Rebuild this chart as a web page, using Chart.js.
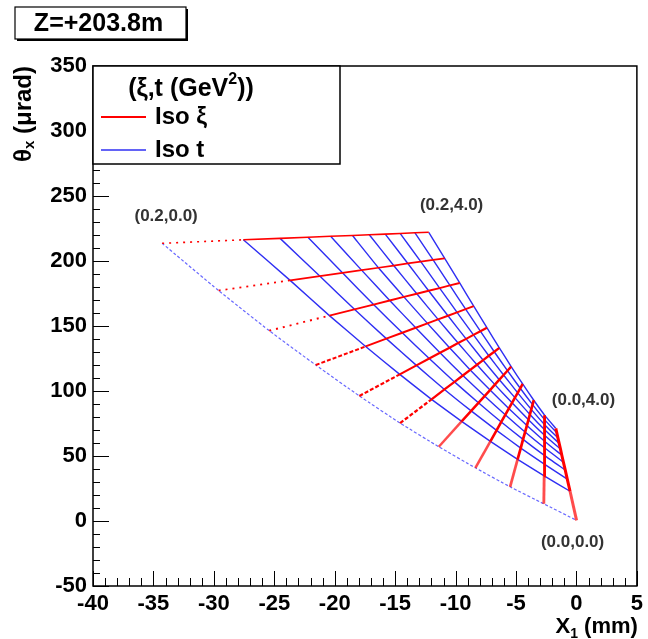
<!DOCTYPE html>
<html>
<head>
<meta charset="utf-8">
<script src="https://cdn.jsdelivr.net/npm/chart.js@4.4.0/dist/chart.umd.min.js"></script>
<style>
  html, body { margin: 0; padding: 0; background: #fff; }
</style>
</head>
<body>
<canvas id="chart" width="648" height="639"></canvas>
<script>
// iso lines of the (xi, t) grid at Z = +203.8 m
const xiValues = [0.20, 0.18, 0.16, 0.14, 0.12, 0.10, 0.08, 0.06, 0.04, 0.02, 0.00];
const tValues  = [0.0, 0.4, 0.8, 1.2, 1.6, 2.0, 2.4, 2.8, 3.2, 3.6, 4.0];

// X1 (mm): one row per xi, one column per t
const gridX = [
  [-34.28, -27.56, -24.52, -22.22, -20.34, -18.53, -17.14, -15.82, -14.59, -13.36, -12.22],
  [-29.61, -23.69, -21.24, -19.36, -17.78, -16.38, -15.12, -13.95, -12.88, -11.86, -10.90],
  [-25.42, -20.44, -18.37, -16.79, -15.45, -14.28, -13.21, -12.23, -11.32, -10.47,  -9.66],
  [-21.57, -17.44, -15.73, -14.41, -13.30, -12.33, -11.45, -10.63,  -9.88,  -9.17,  -8.50],
  [-17.96, -14.62, -13.24, -12.18, -11.29, -10.50,  -9.79,  -9.13,  -8.52,  -7.95,  -7.41],
  [-14.59, -11.99, -10.92, -10.09,  -9.40,  -8.79,  -8.23,  -7.72,  -7.25,  -6.80,  -6.38],
  [-11.39,  -9.50,  -8.71,  -8.11,  -7.60,  -7.15,  -6.75,  -6.38,  -6.03,  -5.71,  -5.40],
  [ -8.36,  -7.12,  -6.61,  -6.22,  -5.89,  -5.60,  -5.33,  -5.09,  -4.86,  -4.65,  -4.45],
  [ -5.49,  -4.87,  -4.61,  -4.42,  -4.25,  -4.10,  -3.97,  -3.85,  -3.74,  -3.63,  -3.53],
  [ -2.70,  -2.67,  -2.66,  -2.66,  -2.65,  -2.64,  -2.64,  -2.63,  -2.63,  -2.62,  -2.62],
  [  0.01,  -0.53,  -0.76,  -0.93,  -1.08,  -1.21,  -1.32,  -1.43,  -1.53,  -1.62,  -1.71]
];

// theta_x (urad): same layout
const gridY = [
  [213.6, 216.3, 217.4, 218.3, 219.0, 219.6, 220.2, 220.7, 221.2, 221.7, 222.1],
  [177.3, 185.1, 188.4, 190.9, 193.0, 194.8, 196.5, 198.1, 199.5, 200.8, 202.1],
  [146.4, 158.0, 162.8, 166.5, 169.6, 172.4, 174.8, 177.1, 179.2, 181.2, 183.1],
  [120.0, 134.3, 140.3, 144.8, 148.7, 152.0, 155.1, 157.9, 160.5, 163.0, 165.3],
  [ 96.2, 112.8, 119.7, 125.0, 129.4, 133.3, 136.9, 140.1, 143.2, 146.0, 148.7],
  [ 75.3,  93.6, 101.2, 107.0, 111.9, 116.2, 120.2, 123.7, 127.1, 130.2, 133.2],
  [ 57.1,  76.6,  84.7,  90.9,  96.1, 100.7, 104.9, 108.7, 112.3, 115.6, 118.8],
  [ 40.9,  61.3,  69.7,  76.2,  81.7,  86.5,  90.9,  94.9,  98.6, 102.1, 105.4],
  [ 26.3,  47.4,  56.1,  62.8,  68.4,  73.4,  77.9,  82.0,  85.9,  89.5,  92.9],
  [ 13.2,  34.7,  43.7,  50.5,  56.3,  61.4,  66.0,  70.2,  74.1,  77.8,  81.3],
  [  0.5,  22.9,  32.2,  39.3,  45.3,  50.6,  55.3,  59.7,  63.8,  67.7,  71.3]
];

const xTicks = { min: -40, max: 5, step: 5, minor: 1 };
const yTicks = { min: -50, max: 350, step: 50, minor: 10 };

// corner annotations, anchored in data units
const cornerText = ['(0.2,0.0)', '(0.2,4.0)', '(0.0,4.0)', '(0.0,0.0)'];
const cornerAtX  = [-33.95, -10.33, 0.58, -0.32];
const cornerAtY  = [234.4, 242.8, 92.8, -16.4];

const FONT = '"Liberation Sans", Arial, Helvetica, sans-serif';
const RED = '#ff0000';
const BLUE = 'rgba(0,0,240,0.82)';

// first segment (t from 0 to 0.4) has few points: dotted on the long lines, faded on the short ones
function firstDash(i) {
  if (i <= 2) return [2, 5];
  if (i <= 5) return [4, 2];
  return undefined;
}

const isoXi = xiValues.map((xi, i) => ({
  label: 'Iso \u03be',
  data: tValues.map((t, j) => ({ x: gridX[i][j], y: gridY[i][j] })),
  showLine: true,
  borderColor: RED,
  borderWidth: 1.6 + 0.14 * i,
  pointRadius: 0,
  tension: 0,
  order: 0,
  segment: {
    borderDash: c => c.p0DataIndex === 0 ? firstDash(i) : undefined,
    borderColor: c => c.p0DataIndex === 0 && i > 5 ? 'rgba(255,0,0,0.7)' : undefined
  }
}));

const isoT = tValues.map((t, j) => ({
  label: 'Iso t',
  data: xiValues.map((xi, i) => ({ x: gridX[i][j], y: gridY[i][j] })),
  showLine: true,
  borderColor: j === 0 ? 'rgba(40,40,255,0.7)' : BLUE,
  borderWidth: j === 0 ? 1.2 : 1.4,
  borderDash: j === 0 ? [3, 2] : [],
  pointRadius: 0,
  tension: 0.15,
  order: 1
}));

// draws text runs with sub/superscripts, returns total width
function richText(ctx, parts, x, y, align) {
  let w = 0;
  parts.forEach(p => { ctx.font = p.font; w += ctx.measureText(p.text).width; });
  let cx = align === 'right' ? x - w : align === 'center' ? x - w / 2 : x;
  ctx.textAlign = 'left';
  parts.forEach(p => {
    ctx.font = p.font;
    ctx.fillText(p.text, cx, y + (p.dy || 0));
    cx += ctx.measureText(p.text).width;
  });
  return w;
}

const rootStyle = {
  id: 'rootStyle',
  beforeDraw(chart) {
    const ctx = chart.ctx;
    ctx.save();
    ctx.fillStyle = '#fff';
    ctx.fillRect(0, 0, chart.width, chart.height);
    ctx.restore();
  },
  afterDraw(chart) {
    const ctx = chart.ctx;
    const a = chart.chartArea;
    const xs = chart.scales.x, ys = chart.scales.y;
    ctx.save();

    // inward ticks on bottom and left axes
    ctx.strokeStyle = '#000';
    ctx.lineWidth = 1;
    ctx.beginPath();
    for (let v = xTicks.min; v <= xTicks.max; v += xTicks.minor) {
      const px = Math.round(xs.getPixelForValue(v)) + 0.5;
      const len = v % xTicks.step === 0 ? 15 : 8;
      ctx.moveTo(px, a.bottom);
      ctx.lineTo(px, a.bottom - len);
    }
    for (let v = yTicks.min; v <= yTicks.max; v += yTicks.minor) {
      const py = Math.round(ys.getPixelForValue(v)) + 0.5;
      const len = v % yTicks.step === 0 ? 16 : 7;
      ctx.moveTo(a.left, py);
      ctx.lineTo(a.left + len, py);
    }
    ctx.stroke();

    // frame
    ctx.lineWidth = 1.5;
    ctx.strokeRect(a.left, a.top, a.right - a.left, a.bottom - a.top);

    // corner labels
    ctx.fillStyle = '#333';
    ctx.font = 'bold 17px ' + FONT;
    ctx.textAlign = 'center';
    ctx.textBaseline = 'middle';
    cornerText.forEach((txt, k) => {
      ctx.fillText(txt, xs.getPixelForValue(cornerAtX[k]), ys.getPixelForValue(cornerAtY[k]));
    });

    // legend box
    const lx = a.left, ly = a.top, lw = 247, lh = 98;
    ctx.fillStyle = '#fff';
    ctx.fillRect(lx, ly, lw, lh);
    ctx.strokeStyle = '#000';
    ctx.lineWidth = 1.5;
    ctx.strokeRect(lx, ly, lw, lh);
    ctx.fillStyle = '#000';
    ctx.textBaseline = 'middle';
    const big = 'bold 25px ' + FONT, small = 'bold 16px ' + FONT;
    richText(ctx, [
      { text: '(\u03be,t (GeV', font: big },
      { text: '2', font: small, dy: -9 },
      { text: '))', font: big }
    ], lx + 98, ly + 23, 'center');
    const entries = [
      { ds: chart.data.datasets[0], y: ly + 51, width: 2 },
      { ds: chart.data.datasets[xiValues.length + 1], y: ly + 84, width: 1.5 }
    ];
    entries.forEach(e => {
      ctx.strokeStyle = e.ds.borderColor;
      ctx.lineWidth = e.width;
      ctx.beginPath();
      ctx.moveTo(lx + 8, e.y);
      ctx.lineTo(lx + 53, e.y);
      ctx.stroke();
      ctx.font = 'bold 24px ' + FONT;
      ctx.textAlign = 'left';
      ctx.fillText(e.ds.label, lx + 62, e.y);
    });

    // x axis title
    ctx.textBaseline = 'alphabetic';
    richText(ctx, [
      { text: 'X', font: 'bold 22px ' + FONT },
      { text: '1', font: 'bold 14px ' + FONT, dy: 5 },
      { text: ' (mm)', font: 'bold 22px ' + FONT }
    ], a.right + 1, 633, 'right');

    // y axis title, reads bottom to top
    ctx.save();
    ctx.translate(24, a.top);
    ctx.rotate(-Math.PI / 2);
    ctx.textBaseline = 'middle';
    richText(ctx, [
      { text: '\u03b8', font: 'bold 24px ' + FONT },
      { text: 'x', font: 'bold 15px ' + FONT, dy: 6 },
      { text: ' (\u03bcrad)', font: 'bold 24px ' + FONT }
    ], 0, 0, 'right');
    ctx.restore();

    // station label
    const bx = 15, by = 7, bw = 171, bh = 32;
    ctx.fillStyle = '#000';
    ctx.fillRect(bx + 2, by + 2, bw, bh);
    ctx.fillStyle = '#fff';
    ctx.fillRect(bx, by, bw, bh);
    ctx.strokeStyle = '#000';
    ctx.lineWidth = 1.2;
    ctx.strokeRect(bx, by, bw, bh);
    ctx.fillStyle = '#000';
    ctx.font = 'bold 25px ' + FONT;
    ctx.textAlign = 'center';
    ctx.textBaseline = 'middle';
    ctx.fillText('Z=+203.8m', bx + bw / 2 - 2, by + bh / 2 + 1);

    ctx.restore();
  }
};

new Chart(document.getElementById('chart'), {
  type: 'scatter',
  data: { datasets: [...isoXi, ...isoT] },
  options: {
    responsive: false,
    animation: false,
    layout: { padding: { top: 66, right: 6, left: 0, bottom: 0 } },
    plugins: { legend: { display: false }, tooltip: { enabled: false } },
    scales: {
      x: {
        type: 'linear',
        min: xTicks.min, max: xTicks.max,
        grid: { display: false, drawTicks: false },
        border: { display: false },
        ticks: {
          stepSize: xTicks.step, autoSkip: false, maxRotation: 0, padding: 5,
          color: '#000', font: { family: FONT, size: 22, weight: 'bold' }
        },
        afterFit: s => { s.height = 53; }
      },
      y: {
        type: 'linear',
        min: yTicks.min, max: yTicks.max,
        grid: { display: false, drawTicks: false },
        border: { display: false },
        ticks: {
          stepSize: yTicks.step, autoSkip: false, padding: 6,
          color: '#000', font: { family: FONT, size: 22, weight: 'bold' }
        },
        afterFit: s => { s.width = 93; }
      }
    }
  },
  plugins: [rootStyle]
});
</script>
</body>
</html>
